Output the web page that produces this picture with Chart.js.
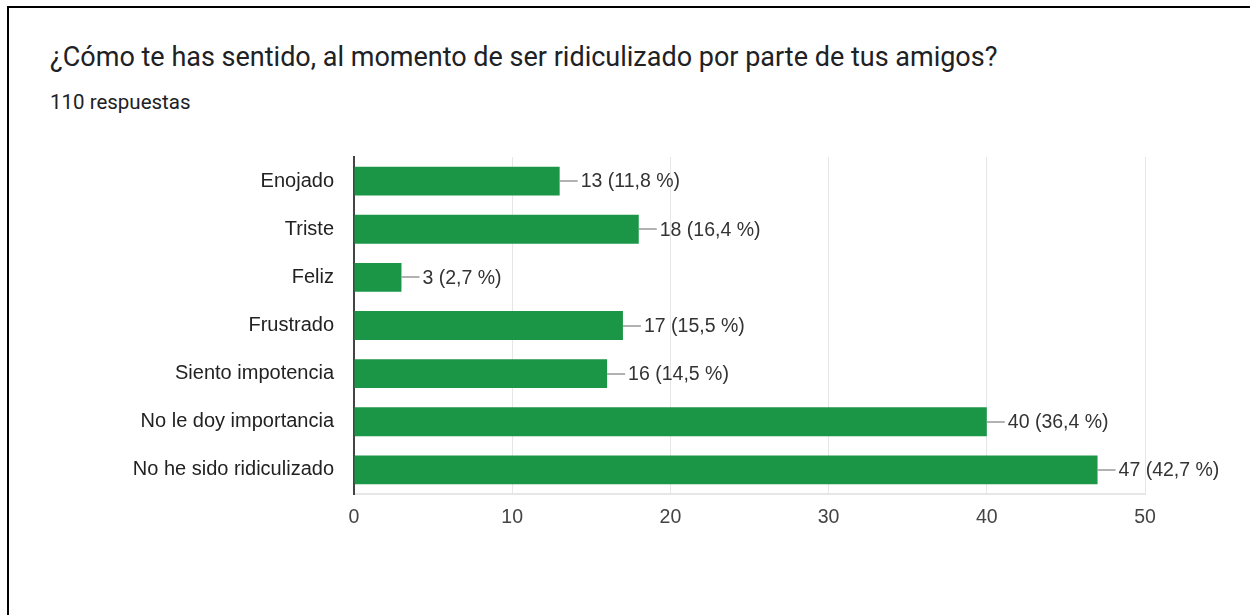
<!DOCTYPE html>
<html>
<head>
<meta charset="utf-8">
<script src="https://cdn.jsdelivr.net/npm/chart.js@4"></script>
<style>
  html,body{margin:0;padding:0;background:#fff;width:1250px;height:615px;overflow:hidden;}
  #frameTop{position:absolute;left:7px;top:6px;width:1243px;height:2px;background:#000;}
  #frameLeft{position:absolute;left:7px;top:6px;width:2px;height:609px;background:#000;}
  #title{position:absolute;left:50px;top:44px;line-height:1;font-family:Roboto,"Open Sans",sans-serif;font-size:27px;color:#202124;white-space:nowrap;}
  #sub{position:absolute;left:50px;top:92px;line-height:1;font-family:Roboto,sans-serif;font-size:20.5px;color:#202124;white-space:nowrap;}
  #wrap{position:absolute;left:0;top:140px;width:1250px;height:394px;}
</style>
</head>
<body>
<div id="frameTop"></div>
<div id="frameLeft"></div>
<div id="title">¿Cómo te has sentido, al momento de ser ridiculizado por parte de tus amigos?</div>
<div id="sub">110 respuestas</div>
<div id="wrap"><canvas id="c"></canvas></div>
<script>
const categories = ["Enojado","Triste","Feliz","Frustrado","Siento impotencia","No le doy importancia","No he sido ridiculizado"];
const counts = [13,18,3,17,16,40,47];
const percents = ["11,8","16,4","2,7","15,5","14,5","36,4","42,7"];
const xTicks = [0,10,20,30,40,50];

const FONT = '"Liberation Sans", Arial, sans-serif';

const labelPlugin = {
  id:'barLabels',
  afterDatasetsDraw(chart){
    const ctx = chart.ctx;
    const meta = chart.getDatasetMeta(0);
    ctx.save();
    ctx.font = '19.5px ' + FONT;
    ctx.textBaseline = 'middle';
    ctx.textAlign = 'left';
    meta.data.forEach((bar,i)=>{
      const x = bar.x, y = bar.y;
      ctx.strokeStyle = '#999';
      ctx.lineWidth = 1.5;
      ctx.beginPath();
      ctx.moveTo(x, Math.round(y));
      ctx.lineTo(x+18, Math.round(y));
      ctx.stroke();
      ctx.fillStyle = '#333';
      ctx.fillText(counts[i] + ' (' + percents[i] + ' %)', x+21, y+1);
    });
    ctx.restore();
  }
};

new Chart(document.getElementById('c'), {
  type:'bar',
  data:{labels:categories, datasets:[{data:counts, backgroundColor:'#1b9646', borderWidth:0, categoryPercentage:1, barPercentage:0.6}]},
  options:{
    indexAxis:'y',
    responsive:true, maintainAspectRatio:false, animation:false,
    layout:{padding:{left:0,right:105,top:17,bottom:0}},
    plugins:{legend:{display:false}, tooltip:{enabled:false}},
    scales:{
      x:{
        min:0,max:50,
        afterBuildTicks(s){ s.ticks = xTicks.map(v=>({value:v})); },
        afterFit(s){ s.height = 40; s.paddingLeft = 0; s.paddingRight = 0; },
        grid:{color:'#e6e6e6', drawTicks:false},
        border:{color:'#e6e6e6', width:2},
        ticks:{padding:12, maxRotation:0, color:'#444', font:{family:FONT, size:19.5}}
      },
      y:{
        afterFit(s){ s.width = 354; s.paddingTop = 0; s.paddingBottom = 0; },
        grid:{display:false, drawTicks:false},
        border:{color:'#444', width:2},
        ticks:{padding:20, autoSkip:false, color:'#222', font:{family:FONT, size:20}}
      }
    }
  },
  plugins:[labelPlugin]
});
</script>
</body>
</html>
